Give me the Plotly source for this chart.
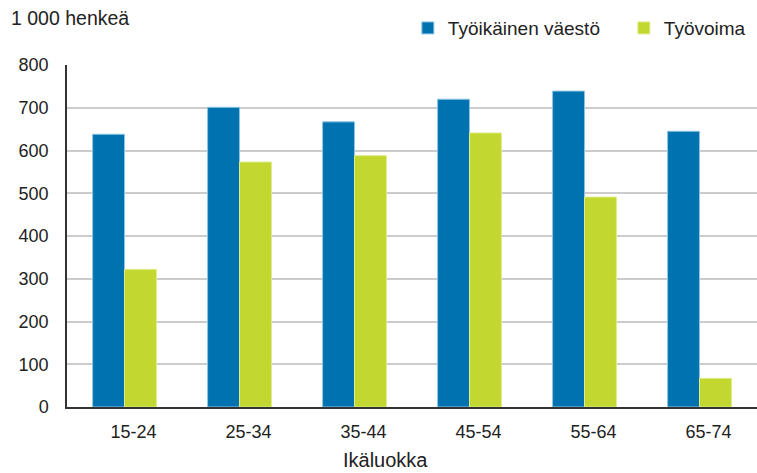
import plotly.graph_objects as go

categories = ["15-24", "25-34", "35-44", "45-54", "55-64", "65-74"]
tyoikainen = [638, 701, 667, 720, 739, 645]
tyovoima = [322, 573, 588, 641, 491, 67]
yticks = [0, 100, 200, 300, 400, 500, 600, 700, 800]

FONT = "Liberation Sans, Arial, sans-serif"
TXT = "#222222"

fig = go.Figure()
fig.add_trace(go.Bar(x=categories, y=tyoikainen, name="Työikäinen väestö",
                     marker=dict(color="#0072b0", line=dict(color="#8cc4e4", width=1))))
fig.add_trace(go.Bar(x=categories, y=tyovoima, name="Työvoima",
                     marker=dict(color="#c2d72f", line=dict(color="#e0ec8a", width=1))))

fig.update_layout(
    width=757, height=473,
    margin=dict(l=67, r=0, t=65, b=66, autoexpand=False),
    plot_bgcolor="white", paper_bgcolor="white",
    font=dict(family=FONT, size=18, color=TXT),
    barmode="group", bargap=0.445, bargroupgap=0,
    showlegend=True,
    legend=dict(orientation="h", x=0.494, xanchor="left", y=1.108, yanchor="middle",
                font=dict(size=19, color=TXT), itemwidth=30, traceorder="normal",
                entrywidth=171, entrywidthmode="pixels",
                bgcolor="rgba(0,0,0,0)"),
    xaxis=dict(showgrid=False, showline=True, linecolor="#333333", linewidth=1.5,
               ticks="", tickfont=dict(size=18, color=TXT), automargin=False,
               ticklabelstandoff=8, ticklabelshift=9),
    yaxis=dict(range=[0, 800], tickvals=yticks, showgrid=True, gridcolor="#cccccc",
               gridwidth=1.5, showline=True, linecolor="#333333", linewidth=1.5,
               ticks="", ticklabelstandoff=13, zeroline=False, automargin=False,
               tickfont=dict(size=18, color=TXT)),
)
fig.add_annotation(text="1 000 henkeä", xref="paper", yref="paper", x=-0.084, y=1.137,
                   xanchor="left", yanchor="middle", showarrow=False,
                   font=dict(size=19.5, color=TXT))
fig.add_annotation(text="Ikäluokka", xref="paper", yref="paper", x=0.461, y=-0.192,
                   xanchor="center", yanchor="bottom", showarrow=False,
                   font=dict(size=20, color=TXT))

fig.write_html("out.html", config={"displayModeBar": False},
               post_script="document.body.style.margin='0';")
